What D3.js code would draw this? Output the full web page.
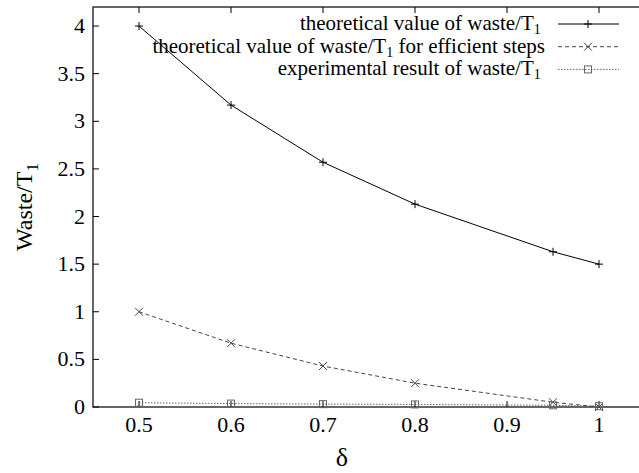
<!DOCTYPE html>
<html>
<head>
<meta charset="utf-8">
<script src="https://cdn.jsdelivr.net/npm/d3@7"></script>
</head>
<body style="margin:0">
<script>
const w = 639;
const h = 473;

// data
const deltas = [0.5, 0.6, 0.7, 0.8, 0.95, 1];
const theoretical = [4, 3.17, 2.57, 2.13, 1.63, 1.5];
const theoreticalEfficient = [1, 0.67, 0.43, 0.25, 0.05, 0];
const experimental = [0.045, 0.036, 0.03, 0.027, 0.018, 0.008];
const xTicks = [0.5, 0.6, 0.7, 0.8, 0.9, 1];
const yTicks = [0, 0.5, 1, 1.5, 2, 2.5, 3, 3.5, 4];
const seriesNames = [
	'theoretical value of waste/T',
	'theoretical value of waste/T',
	'experimental result of waste/T'
];
const seriesSuffix = ['', ' for efficient steps', ''];

const m = { left: 93, top: 7, right: 645, bottom: 407 };

const x = d3.scaleLinear().domain([0.45, 1.05]).range([m.left, m.right]);
const y = d3.scaleLinear().domain([0, 4.2]).range([m.bottom, m.top]);

const svg = d3.select('body').append('svg')
	.attr('width', w)
	.attr('height', h)
	.attr('font-family', 'Liberation Serif, Tinos, Times New Roman, Times')
	.style('font-family', 'Liberation Serif, Tinos, Times New Roman, Times');

// frame
svg.append('rect')
	.attr('x', m.left)
	.attr('y', m.top)
	.attr('width', m.right - m.left)
	.attr('height', m.bottom - m.top)
	.attr('fill', 'none')
	.attr('stroke', '#000')
	.attr('stroke-width', 1.2);

// ticks, bottom with labels and mirrored on top
const xAxis = svg.append('g');
xAxis.selectAll('line.b')
	.data(xTicks)
	.enter()
	.append('line')
	.attr('x1', d => x(d)).attr('x2', d => x(d))
	.attr('y1', m.bottom).attr('y2', m.bottom - 6)
	.attr('stroke', '#000');
xAxis.selectAll('line.t')
	.data(xTicks)
	.enter()
	.append('line')
	.attr('x1', d => x(d)).attr('x2', d => x(d))
	.attr('y1', m.top).attr('y2', m.top + 6)
	.attr('stroke', '#000');
xAxis.selectAll('text')
	.data(xTicks)
	.enter()
	.append('text')
	.attr('x', d => x(d))
	.attr('y', 432)
	.attr('text-anchor', 'middle')
	.attr('font-size', 22)
	.text(d => d);

const yAxis = svg.append('g');
yAxis.selectAll('line')
	.data(yTicks)
	.enter()
	.append('line')
	.attr('x1', m.left).attr('x2', m.left + 6)
	.attr('y1', d => y(d)).attr('y2', d => y(d))
	.attr('stroke', '#000');
yAxis.selectAll('text')
	.data(yTicks)
	.enter()
	.append('text')
	.attr('x', 85)
	.attr('y', d => y(d) + 7)
	.attr('text-anchor', 'end')
	.attr('font-size', 22)
	.text(d => d);

// axis titles
const yTitle = svg.append('text')
	.attr('transform', 'translate(32,207) rotate(-90)')
	.attr('text-anchor', 'middle')
	.attr('font-size', 24);
yTitle.append('tspan').text('Waste/T');
yTitle.append('tspan').attr('dy', 6).attr('font-size', 17).text('1');

svg.append('text')
	.attr('x', 342)
	.attr('y', 466)
	.attr('text-anchor', 'middle')
	.attr('font-size', 26)
	.text('δ');

// series
const styles = [
	{ stroke: '#000', dash: null },
	{ stroke: '#444', dash: '4,3' },
	{ stroke: '#666', dash: '1.5,1.5' }
];
const values = [theoretical, theoreticalEfficient, experimental];

const line = d3.line()
	.x(d => x(d[0]))
	.y(d => y(d[1]));

function marker(g, type, cx, cy, color) {
	if (type === 0) {
		g.append('path').attr('d', `M${cx - 4},${cy}H${cx + 4}M${cx},${cy - 4}V${cy + 4}`)
			.attr('stroke', color).attr('fill', 'none');
	} else if (type === 1) {
		g.append('path').attr('d', `M${cx - 4},${cy - 4}L${cx + 4},${cy + 4}M${cx - 4},${cy + 4}L${cx + 4},${cy - 4}`)
			.attr('stroke', color).attr('fill', 'none');
	} else {
		g.append('rect').attr('x', cx - 3.5).attr('y', cy - 3.5).attr('width', 7).attr('height', 7)
			.attr('stroke', color).attr('fill', 'none');
	}
}

values.forEach((vals, i) => {
	const pts = deltas.map((d, j) => [d, vals[j]]);
	const g = svg.append('g');
	g.append('path')
		.attr('d', line(pts))
		.attr('fill', 'none')
		.attr('stroke', styles[i].stroke)
		.attr('stroke-dasharray', styles[i].dash);
	pts.forEach(p => marker(g, i, x(p[0]), y(p[1]), styles[i].stroke));
});

// legend
const legend = svg.append('g');
seriesNames.forEach((name, i) => {
	const cy = 24 + i * 22.7;
	const t = legend.append('text')
		.attr('x', 545)
		.attr('y', cy + 6)
		.attr('text-anchor', 'end')
		.attr('font-size', 21);
	t.append('tspan').text(name);
	t.append('tspan').attr('dy', 4).attr('font-size', 14).text('1');
	t.append('tspan').attr('dy', -4).text(seriesSuffix[i] || '\u2009');
	legend.append('line')
		.attr('x1', 558).attr('x2', 619)
		.attr('y1', cy).attr('y2', cy)
		.attr('stroke', styles[i].stroke)
		.attr('stroke-dasharray', styles[i].dash);
	marker(legend, i, 588, cy, styles[i].stroke);
});
</script>
</body>
</html>
